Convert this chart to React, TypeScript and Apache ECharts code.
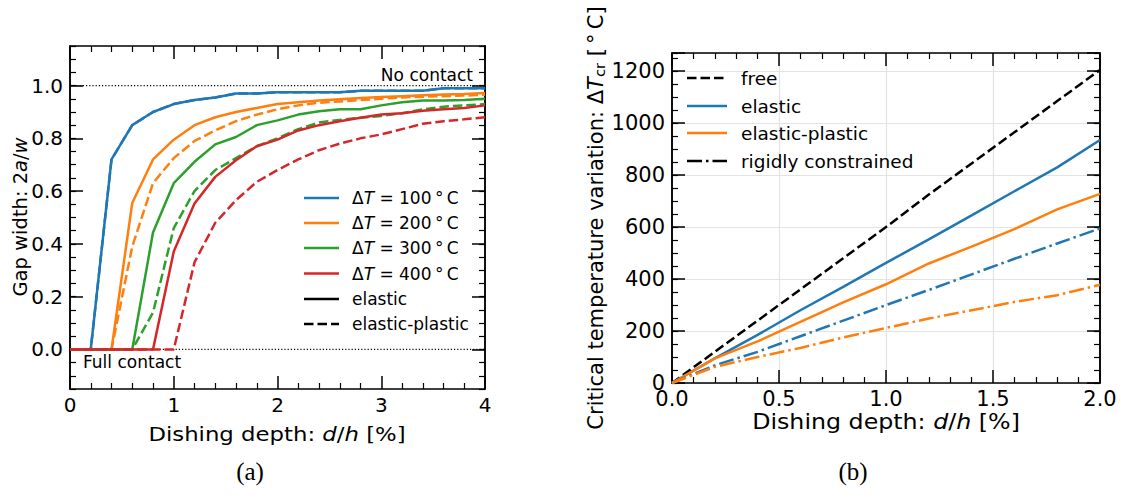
import React, { useEffect, useRef } from "react";
import * as echarts from "echarts";

// ---------- data: panel (a) ----------
const depthA = [0, 0.2, 0.4, 0.6, 0.8, 1.0, 1.2, 1.4, 1.6, 1.8, 2.0, 2.2, 2.4, 2.6, 2.8, 3.0, 3.2, 3.4, 3.6, 3.8, 4.0];
const gap100E = [0, 0, 0.72, 0.85, 0.9, 0.93, 0.945, 0.955, 0.97, 0.97, 0.975, 0.975, 0.975, 0.975, 0.98, 0.98, 0.98, 0.98, 0.99, 0.99, 0.99];
const gap100P = [0, 0, 0.72, 0.85, 0.9, 0.93, 0.945, 0.955, 0.97, 0.97, 0.975, 0.975, 0.975, 0.975, 0.98, 0.98, 0.98, 0.98, 0.99, 0.99, 0.99];
const gap200E = [0, 0, 0, 0.555, 0.72, 0.795, 0.85, 0.88, 0.9, 0.915, 0.93, 0.937, 0.943, 0.948, 0.953, 0.957, 0.96, 0.963, 0.966, 0.968, 0.972];
const gap200P = [0, 0, 0, 0.39, 0.63, 0.725, 0.79, 0.83, 0.865, 0.89, 0.91, 0.925, 0.935, 0.94, 0.945, 0.95, 0.955, 0.958, 0.96, 0.962, 0.965];
const gap300E = [0, 0, 0, 0, 0.443, 0.63, 0.711, 0.777, 0.805, 0.85, 0.868, 0.89, 0.903, 0.91, 0.91, 0.925, 0.937, 0.943, 0.943, 0.945, 0.95];
const gap300P = [0, 0, 0, 0, 0.14, 0.46, 0.6, 0.68, 0.725, 0.77, 0.8, 0.835, 0.86, 0.87, 0.878, 0.885, 0.895, 0.91, 0.92, 0.925, 0.93];
const gap400E = [0, 0, 0, 0, 0, 0.371, 0.553, 0.654, 0.717, 0.77, 0.795, 0.83, 0.85, 0.865, 0.878, 0.89, 0.895, 0.905, 0.91, 0.915, 0.925];
const gap400P = [0, 0, 0, 0, 0, 0, 0.33, 0.48, 0.566, 0.635, 0.68, 0.72, 0.755, 0.78, 0.8, 0.815, 0.835, 0.855, 0.865, 0.872, 0.88];
const deltaTs = ["100", "200", "300", "400"];
const refLevels = [0, 1];
const yTicksA = [0, 0.2, 0.4, 0.6, 0.8, 1.0];

// ---------- data: panel (b) ----------
const depthB = [0, 0.2, 0.4, 0.6, 0.8, 1.0, 1.2, 1.4, 1.6, 1.8, 2.0];
const freeT = [0, 120, 240, 360, 480, 600, 725, 845, 965, 1085, 1205];
const elasticT = [0, 95, 185, 280, 370, 462, 553, 645, 738, 830, 935];
const elPlT = [0, 95, 160, 235, 310, 380, 460, 525, 592, 668, 728];
const rigidElasticT = [0, 68, 120, 180, 240, 300, 358, 418, 478, 537, 595];
const rigidElPlT = [0, 62, 100, 135, 175, 212, 248, 280, 312, 338, 378];
const legendB = ["free", "elastic", "elastic-plastic", "rigidly constrained"];

const C = { blue: "#1f77b4", orange: "#ff7f0e", green: "#2ca02c", red: "#d62728" };
const FONT = "DejaVu Sans";
const LW = 2.5;
const DASH = [9.5, 4];
const DASHDOT = [15, 4, 2.5, 4];

const zip = (xs: number[], ys: number[]) => xs.map((x, i) => [x, ys[i]]);

function frameAxis(extra: any) {
  return {
    type: "value",
    axisLine: { show: true, onZero: false, lineStyle: { color: "#000", width: 1.5 } },
    splitLine: { show: false },
    axisTick: { show: true, inside: true, length: 13, lineStyle: { color: "#000", width: 1.5 } },
    axisLabel: { show: false },
    ...extra,
  };
}

function line(name: string, data: number[][], color: string, dash: any, xi: number, yi: number, z = 3) {
  return {
    type: "line",
    name,
    data,
    xAxisIndex: xi,
    yAxisIndex: yi,
    symbol: "none",
    z,
    lineStyle: { color, width: LW, type: dash },
  };
}

export default function App() {
  const ref = useRef<HTMLDivElement>(null);
  useEffect(() => {
    const chart = echarts.init(ref.current!, null, { renderer: "svg" });
    const minorA: number[] = [];
    for (let i = -3; i <= 23; i++) minorA.push(Math.round(i * 5) / 100);

    const labA = { show: true, color: "#000", fontSize: 20, fontFamily: FONT, margin: 6 };
    const labB = { show: true, color: "#000", fontSize: 21, fontFamily: FONT, margin: 5 };

    const xAxis = [
      frameAxis({ gridIndex: 0, position: "bottom", min: 0, max: 4, interval: 1,
        minorTick: { show: true, splitNumber: 5, length: 6, lineStyle: { color: "#000", width: 1.2 } },
        axisLabel: { ...labA, formatter: (v: number) => String(v) } }),
      frameAxis({ gridIndex: 0, position: "top", min: 0, max: 4, interval: 1,
        minorTick: { show: true, splitNumber: 5, length: 6, lineStyle: { color: "#000", width: 1.2 } } }),
      frameAxis({ gridIndex: 1, position: "bottom", min: 0, max: 2, interval: 0.5,
        splitLine: { show: true, lineStyle: { color: "#e3e3e3", width: 1.2 } },
        minorTick: { show: true, splitNumber: 5, length: 6, lineStyle: { color: "#000", width: 1.2 } },
        axisLabel: { ...labB, formatter: (v: number) => v.toFixed(1) } }),
      frameAxis({ gridIndex: 1, position: "top", min: 0, max: 2, interval: 0.5,
        minorTick: { show: true, splitNumber: 5, length: 6, lineStyle: { color: "#000", width: 1.2 } } }),
    ];
    const yAxis = [
      frameAxis({ gridIndex: 0, position: "left", min: -0.15, max: 1.15,
        axisTick: { show: true, inside: true, length: 13, customValues: yTicksA, lineStyle: { color: "#000", width: 1.5 } },
        axisLabel: { ...labA, margin: 7, customValues: yTicksA, formatter: (v: number) => v.toFixed(1) } }),
      frameAxis({ gridIndex: 0, position: "left", min: -0.15, max: 1.15,
        axisTick: { show: true, inside: true, length: 6, customValues: minorA, lineStyle: { color: "#000", width: 1.2 } } }),
      frameAxis({ gridIndex: 0, position: "right", min: -0.15, max: 1.15,
        axisTick: { show: true, inside: true, length: 13, customValues: yTicksA, lineStyle: { color: "#000", width: 1.5 } } }),
      frameAxis({ gridIndex: 0, position: "right", min: -0.15, max: 1.15,
        axisTick: { show: true, inside: true, length: 6, customValues: minorA, lineStyle: { color: "#000", width: 1.2 } } }),
      frameAxis({ gridIndex: 1, position: "left", min: 0, max: 1270, interval: 200,
        splitLine: { show: true, lineStyle: { color: "#e3e3e3", width: 1.2 } },
        axisLabel: { ...labB, margin: 7, formatter: (v: number) => (v % 200 === 0 ? String(v) : "") } }),
      frameAxis({ gridIndex: 1, position: "left", min: 0, max: 1270, interval: 50,
        axisTick: { show: true, inside: true, length: 6, lineStyle: { color: "#000", width: 1.2 } } }),
      frameAxis({ gridIndex: 1, position: "right", min: 0, max: 1270, interval: 200 }),
      frameAxis({ gridIndex: 1, position: "right", min: 0, max: 1270, interval: 50,
        axisTick: { show: true, inside: true, length: 6, lineStyle: { color: "#000", width: 1.2 } } }),
    ];

    const colorsA = [C.blue, C.orange, C.green, C.red];
    const elasticA = [gap100E, gap200E, gap300E, gap400E];
    const plasticA = [gap100P, gap200P, gap300P, gap400P];

    const series: any[] = [];
    refLevels.forEach((lv) =>
      series.push({
        type: "line", data: [[0, lv], [4, lv]], xAxisIndex: 0, yAxisIndex: 0, symbol: "none", z: 2,
        lineStyle: { color: "#000", width: 1.1, type: [1.2, 2] },
      })
    );
    deltaTs.forEach((dt, i) => {
      series.push(line(dt + " elastic", zip(depthA, elasticA[i]), colorsA[i], "solid", 0, 0));
      series.push(line(dt + " elastic-plastic", zip(depthA, plasticA[i]), colorsA[i], DASH, 0, 0));
    });
    series.push(line("free", zip(depthB, freeT), "#000", DASH, 2, 4));
    series.push(line("elastic", zip(depthB, elasticT), C.blue, "solid", 2, 4));
    series.push(line("elastic-plastic", zip(depthB, elPlT), C.orange, "solid", 2, 4));
    series.push(line("rigid elastic", zip(depthB, rigidElasticT), C.blue, DASHDOT, 2, 4));
    series.push(line("rigid elastic-plastic", zip(depthB, rigidElPlT), C.orange, DASHDOT, 2, 4));

    const txt = (x: number, y: number, text: string, size: number, extra: any = {}, el: any = {}) => ({
      type: "text", x, y, z: 100, ...el,
      style: { text, fill: "#000", fontSize: size, fontFamily: FONT, align: "left", verticalAlign: "middle", ...extra },
    });
    const seg = (x1: number, x2: number, y: number, color: string, dash: any) => ({
      type: "line", z: 100, shape: { x1, y1: y, x2, y2: y },
      style: { stroke: color, lineWidth: LW, lineDash: dash },
    });
    const richA = (fs: number) => ({
      n: { fontSize: fs, fontFamily: FONT, fill: "#000" },
      i: { fontSize: fs, fontFamily: FONT, fontStyle: "italic", fill: "#000" },
      sub: { fontSize: fs * 0.7, fontFamily: FONT, fill: "#000", verticalAlign: "bottom", lineHeight: 12 },
    });

    const graphic: any[] = [];
    // legend (a)
    const rowsA = [198, 223, 248, 273.5, 299, 324];
    deltaTs.forEach((dt, i) => {
      graphic.push(seg(304, 339, rowsA[i], colorsA[i], null));
      graphic.push(txt(352, rowsA[i], `{n|Δ}{i|T}{n| = ${dt}\u2009°\u2009C}`, 17, { rich: richA(17) }));
    });
    graphic.push(seg(304, 339, rowsA[4], "#000", null));
    graphic.push(txt(352, rowsA[4], "elastic", 17));
    graphic.push(seg(304, 339, rowsA[5], "#000", DASH));
    graphic.push(txt(352, rowsA[5], "elastic-plastic", 17));
    // annotations (a)
    graphic.push(txt(473, 75, "No contact", 17, { align: "right" }));
    graphic.push(txt(83, 362, "Full contact", 17));
    // legend (b)
    const rowsB = [78, 106, 133, 161];
    const legColors = ["#000", C.blue, C.orange, "#000"];
    const legDash: any[] = [DASH, null, null, DASHDOT];
    legendB.forEach((name, i) => {
      graphic.push(seg(687, 727, rowsB[i], legColors[i], legDash[i]));
      graphic.push(txt(741, rowsB[i], name, 18.5));
    });
    // axis titles
    graphic.push(txt(277, 434, "{n|Dishing depth: }{i|d}{n|/}{i|h}{n| [%]}", 20, { align: "center", rich: richA(20) }, { scaleX: 1.14 }));
    graphic.push(txt(20, 217, "{n|Gap width: 2}{i|a}{n|/}{i|w}", 19.5, { align: "center", rich: richA(19.5) }, { rotation: Math.PI / 2 }));
    graphic.push(txt(886, 422, "{n|Dishing depth: }{i|d}{n|/}{i|h}{n| [%]}", 21, { align: "center", rich: richA(21) }, { scaleX: 1.13 }));
    graphic.push(txt(596, 218, "{n|Critical temperature variation: Δ}{i|T}{sub|cr}{n| [\u2009°\u2009C]}", 21, { align: "center", rich: richA(21) }, { rotation: Math.PI / 2 }));
    // captions
    graphic.push(txt(250, 471, "(a)", 25, { align: "center", fontFamily: "Liberation Serif" }));
    graphic.push(txt(853, 471, "(b)", 25, { align: "center", fontFamily: "Liberation Serif" }));

    chart.setOption({
      animation: false,
      backgroundColor: "#fff",
      grid: [
        { left: 70, top: 46, width: 415, height: 343, containLabel: false },
        { left: 672, top: 53, width: 428, height: 330, containLabel: false },
      ],
      xAxis,
      yAxis,
      series,
      graphic,
    });
    return () => chart.dispose();
  }, []);
  return <div ref={ref} style={{ position: "fixed", left: 0, top: 0, width: 1123, height: 498 }} />;
}
